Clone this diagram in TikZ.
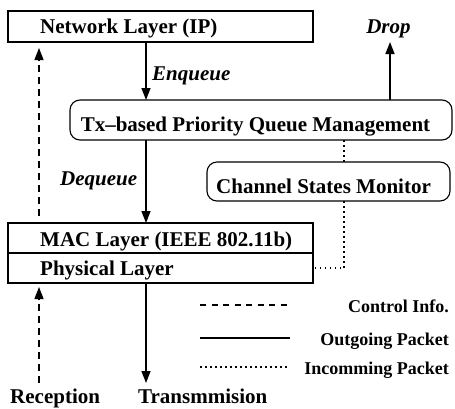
\documentclass[tikz,border=0pt]{standalone}
\usepackage{fontspec}
\setmainfont{Liberation Serif}
\usetikzlibrary{arrows.meta}
\tikzset{
  layerbox/.style={draw, line width=1.1pt, inner sep=0pt, outer sep=0pt, anchor=north west},
  roundbox/.style={layerbox, rounded corners=10pt},
  lbl/.style={font=\fontsize{21}{25}\selectfont\bfseries, inner sep=0pt, anchor=base west},
  ilbl/.style={lbl, font=\fontsize{21}{25}\selectfont\bfseries\itshape},
  leg/.style={font=\fontsize{18}{22}\selectfont\bfseries, inner sep=0pt, anchor=base east},
  tip/.style={-{Triangle[length=12pt,width=9pt]}},
  flow/.style={line width=1.6pt, tip},
  ctrl/.style={line width=1.3pt, dash pattern=on 7pt off 5pt, tip},
  incoming/.style={line width=1.3pt, dash pattern=on 1.5pt off 3.5pt},
  legctrl/.style={line width=1.3pt, dash pattern=on 6pt off 5.5pt},
  legout/.style={line width=1.8pt},
}
\begin{document}
\begin{tikzpicture}[x=1pt,y=-1pt]
\useasboundingbox (0,0) rectangle (455,408);

% boxes
\node[layerbox, minimum width=305pt, minimum height=31pt] (net) at (8,11) {};
\node[roundbox, minimum width=382pt, minimum height=40pt] (queue) at (70,100) {};
\node[roundbox, minimum width=243pt, minimum height=39pt] (chan) at (207,162) {};
\node[layerbox, minimum width=305pt, minimum height=30pt] (mac) at (8,223) {};
\node[layerbox, minimum width=305pt, minimum height=30pt] (phy) at (8,253) {};

% box texts
\node[lbl] (netT) at (40,33) {Network Layer (IP)};
\node[lbl, anchor=base] (queueT) at (255.5,131) {Tx\textendash based Priority Queue Management};
\node[lbl, anchor=base] (chanT) at (323.5,193) {Channel States Monitor};
\node[lbl] (macT) at (40,246) {MAC Layer (IEEE 802.11b)};
\node[lbl] (phyT) at (40,275) {Physical Layer};

% arrow labels
\node[ilbl] (enq) at (152,80) {Enqueue};
\node[ilbl] (deq) at (60,185) {Dequeue};
\node[ilbl, anchor=base] (drop) at (388.5,33) {Drop};
\node[lbl] (rx) at (10,403) {Reception};
\node[lbl] (tx) at (138,403) {Transmmision};

% connector columns and free ends
\coordinate (xctrl) at (39,0);
\coordinate (xmain) at (146,0);
\coordinate (xmon) at (344,0);
\coordinate (dropEnd) at (390,42);
\coordinate (rxEnd) at (39,383);
\coordinate (txEnd) at (146,383);

% outgoing packets
\draw[flow] (net.south -| xmain) -- (queue.north -| xmain);
\draw[flow] (queue.south -| xmain) -- (mac.north -| xmain);
\draw[flow] (phy.south -| xmain) -- (txEnd);
\draw[flow] (queue.north -| dropEnd) -- (dropEnd);

% control information
\draw[ctrl] ([yshift=7pt]mac.north -| xctrl) -- ([yshift=-6pt]net.south -| xctrl);
\draw[ctrl] (rxEnd) -- ([yshift=-4pt]phy.south -| xctrl);

% incoming packets
\draw[incoming] (queue.south -| xmon) -- (chan.north -| xmon);
\draw[incoming] (chan.south -| xmon) |- (phy.east);

% legend
\coordinate (l1a) at (200,305); \coordinate (l1b) at (290,305);
\coordinate (l2a) at (200,338); \coordinate (l2b) at (290,338);
\coordinate (l3a) at (200,367); \coordinate (l3b) at (290,367);
\draw[legctrl] (l1a) -- (l1b);
\draw[legout] (l2a) -- (l2b);
\draw[incoming] (l3a) -- (l3b);
\node[leg] (legC) at (449,312) {Control Info.};
\node[leg] (legO) at (449,345) {Outgoing Packet};
\node[leg] (legI) at (449,374) {Incomming Packet};
\end{tikzpicture}
\end{document}
